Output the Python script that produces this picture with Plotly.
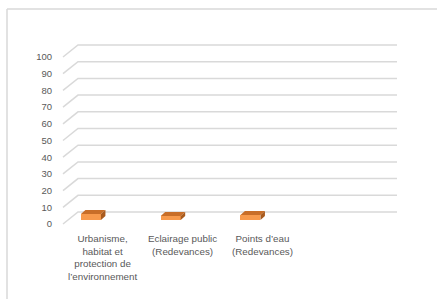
import plotly.graph_objects as go

# ---- data ----
categories = ["Urbanisme,<br>habitat et<br>protection de<br>l’environnement",
              "Eclairage public<br>(Redevances)",
              "Points d’eau<br>(Redevances)"]
values = [3.6, 2.4, 3.0]
y_ticks = [0, 10, 20, 30, 40, 50, 60, 70, 80, 90, 100]

# ---- pseudo-3D geometry (axis units) ----
n_slots = 4                    # category slots across the floor
px_x = 79.75                   # px per x unit
px_y = 1.67                    # px per y unit
depth_x = 15 / px_x            # back-wall shift
depth_y = 12 / px_y
bar_off = 0.35                 # bar centre within slot
bar_w = 20 / px_x
bar_base = 4 / px_y
bar_dx = 4.5 / px_x
bar_dy = 4 / px_y

grid_col = "#D9D9D9"
front_col = "#F79A4C"
top_col = "#C86E28"
side_col = "#A95B1E"

W, H = 437, 299
ml, mt = 60, 41
plot_w, plot_h = 340, 188
x0 = -3 / px_x
y0 = -3
xr = [x0, x0 + plot_w / px_x]
yr = [y0, y0 + plot_h / px_y]

fig = go.Figure()

# front faces of bars
xs = [i + bar_off for i in range(len(values))]
fig.add_trace(go.Bar(x=xs, y=values, base=[bar_base] * len(values), width=bar_w,
                     marker=dict(color=front_col, line=dict(width=0)),
                     hoverinfo="skip", showlegend=False))

shapes = []
# walls/grid: diagonal + back line
for v in y_ticks:
    shapes.append(dict(type="path", xref="x", yref="y",
                       path=f"M 0 {v} L {depth_x} {v + depth_y} L {n_slots + depth_x} {v + depth_y}",
                       line=dict(color=grid_col, width=1.5), layer="below"))

# top + side faces
for x, v in zip(xs, values):
    l, r = x - bar_w / 2, x + bar_w / 2
    b, t = bar_base, bar_base + v
    shapes.append(dict(type="path", xref="x", yref="y",
                       path=f"M {l} {t} L {r} {t} L {r + bar_dx} {t + bar_dy} L {l + bar_dx} {t + bar_dy} Z",
                       fillcolor=top_col, line=dict(width=0)))
    shapes.append(dict(type="path", xref="x", yref="y",
                       path=f"M {r} {b} L {r} {t} L {r + bar_dx} {t + bar_dy} L {r + bar_dx} {b + bar_dy} Z",
                       fillcolor=side_col, line=dict(width=0)))

# chart frame (top & left edges)
fx = lambda p: (p - ml) / plot_w
fy = lambda p: (mt + plot_h - p) / plot_h
shapes.append(dict(type="line", xref="paper", yref="paper", x0=fx(7), y0=fy(9), x1=fx(440), y1=fy(9),
                   line=dict(color=grid_col, width=1.5)))
shapes.append(dict(type="line", xref="paper", yref="paper", x0=fx(7), y0=fy(9), x1=fx(7), y1=fy(302),
                   line=dict(color=grid_col, width=1.5)))

annotations = []
for i, c in enumerate(categories):
    annotations.append(dict(x=i + 0.5, xref="x", y=fy(231), yref="paper", yanchor="top",
                            text=c, showarrow=False, align="center",
                            font=dict(family="Liberation Sans, Arial", size=9.8, color="#595959")))

fig.update_layout(
    width=W, height=H,
    margin=dict(l=ml, r=W - ml - plot_w, t=mt, b=H - mt - plot_h),
    paper_bgcolor="white", plot_bgcolor="white",
    shapes=shapes, annotations=annotations,
    xaxis=dict(range=xr, showgrid=False, zeroline=False, showticklabels=False, showline=False),
    yaxis=dict(range=yr, tickvals=y_ticks, ticktext=[str(v) for v in y_ticks],
               showgrid=False, zeroline=False, showline=False,
               ticks="outside", ticklen=5, tickcolor="rgba(0,0,0,0)",
               tickfont=dict(family="Liberation Sans, Arial", size=9.5, color="#595959")),
    bargap=0,
)

fig.write_html("out.html", config={"displayModeBar": False},
               post_script="document.body.style.margin='0';")
